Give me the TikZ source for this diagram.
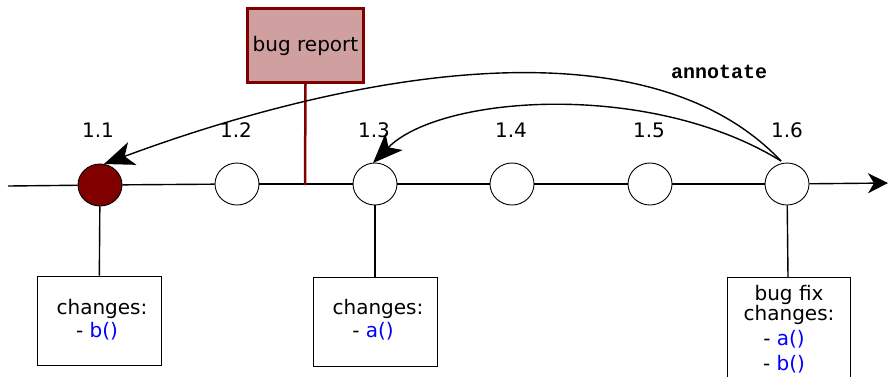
\documentclass[tikz,border=0pt]{standalone}
\usepackage{fontspec}
\setmainfont{DejaVu Sans}
\newfontfamily\codefont{Liberation Mono}
\usetikzlibrary{arrows.meta,shapes.geometric}
\definecolor{darkred}{HTML}{800000}
\definecolor{reportfill}{HTML}{D0A0A0}
\definecolor{fnblue}{HTML}{0000FF}
\begin{document}
\begin{tikzpicture}[x=1pt,y=-1pt,
  every node/.style={font=\fontsize{20}{23}\selectfont},
  rev/.style={draw=black,line width=0.9pt,fill=white,ellipse,minimum width=44pt,minimum height=42pt,inner sep=0pt},
  lbl/.style={inner sep=0pt},
  conn/.style={line width=1.4pt,draw=black},
  annot/.style={line width=1.4pt,draw=black,-{Stealth[length=30pt,width=24pt,inset=8pt]}},
  chbox/.style={draw=black,line width=0.9pt,fill=white,minimum width=124pt,minimum height=89pt,inner sep=0pt},
  txt/.style={inner sep=0pt,anchor=base},
]
\useasboundingbox (0,0) rectangle (888,376);
\path[fill=white] (0,0) rectangle (888,376);

% main line
\coordinate (start) at (8,186);
\coordinate (endp) at (888,183);
\coordinate (hook) at (305,185);

\node[rev,fill=darkred] (c1) at (100,185) {};
\node[rev] (c2) at (237,184) {};
\node[rev] (c3) at (375,184) {};
\node[rev] (c4) at (512,184) {};
\node[rev] (c5) at (650,184) {};
\node[rev] (c6) at (787,184) {};

\draw[conn] (start) -- (c1);
\draw[conn] (c1) -- (c2);
\draw[conn] (c2) -- (c3);
\draw[conn] (c3) -- (c4);
\draw[conn] (c4) -- (c5);
\draw[conn] (c5) -- (c6);
\draw[conn,-{Stealth[length=20pt,width=20pt,inset=6pt]}] (c6) -- (endp);

% version labels
\node[lbl] (l1) at (98,130) {1.1};
\node[lbl] (l2) at (236,130) {1.2};
\node[lbl] (l3) at (374,130) {1.3};
\node[lbl] (l4) at (511,130) {1.4};
\node[lbl] (l5) at (649,130) {1.5};
\node[lbl] (l6) at (787,130) {1.6};

% bug report
\node[draw=darkred,line width=2.5pt,fill=reportfill,minimum width=116pt,minimum height=74pt,inner sep=0pt] (report) at (305.5,45.5) {bug report};
\draw[darkred,line width=2.5pt] (report.south) -- (hook);

% annotate arrows
\coordinate (a6) at (781,161);
\coordinate (a1) at (104,164);
\coordinate (a3) at (373,163);
\draw[annot] (a6) .. controls (640,12) and (330,80) .. (a1);
\draw[annot] (a6) .. controls (650,80) and (440,95) .. (a3);
\node[lbl] (annlbl) at (719,72) {\codefont\bfseries annotate};

% change boxes
\node[chbox] (b1) at (99,320.5) {};
\node[chbox] (b3) at (375,321.5) {};
\draw[conn] (c1) -- (b1);
\draw[conn] (c3) -- (b3);

\node[txt] (b1t1) at (102,314) {changes:};
\node[txt] (b1t2) at (97,337) {- \textcolor{fnblue}{b()}};
\node[txt] (b3t1) at (378,314) {changes:};
\node[txt] (b3t2) at (373,337) {- \textcolor{fnblue}{a()}};

% bug fix box (runs off bottom)
\coordinate (b6tl) at (727,277);
\coordinate (b6tr) at (850,277);
\coordinate (b6bl) at (727,380);
\coordinate (b6br) at (850,380);
\coordinate (b6top) at (788,277);
\path[fill=white] (b6bl) -- (b6tl) -- (b6tr) -- (b6br) -- cycle;
\draw[line width=0.9pt] (b6bl) -- (b6tl) -- (b6tr) -- (b6br);
\draw[conn] (c6) -- (b6top);
\node[txt] (b6t1) at (789,300) {bug fix};
\node[txt] (b6t2) at (789,320) {changes:};
\node[txt] (b6t3) at (784,345) {- \textcolor{fnblue}{a()}};
\node[txt] (b6t4) at (784,370) {- \textcolor{fnblue}{b()}};
\end{tikzpicture}
\end{document}
